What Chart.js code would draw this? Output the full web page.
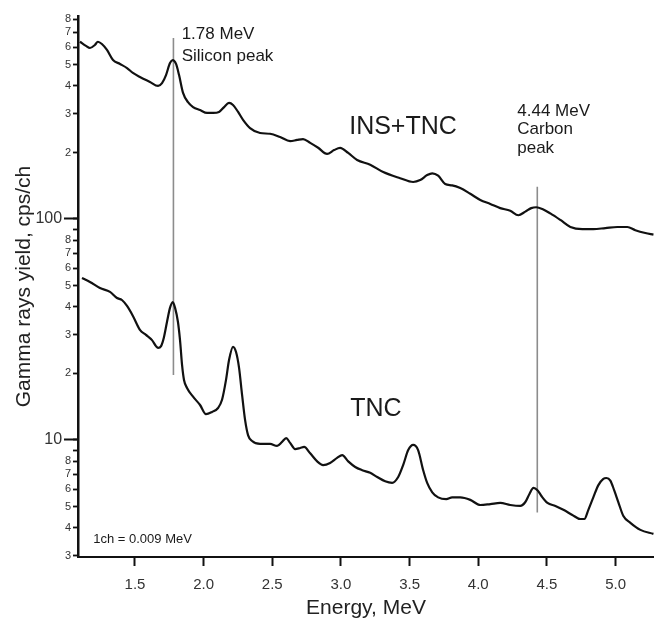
<!DOCTYPE html>
<html>
<head>
<meta charset="utf-8">
<script src="https://cdn.jsdelivr.net/npm/chart.js@4.4.1/dist/chart.umd.min.js"></script>
<style>
html,body{margin:0;padding:0;background:#fff;}
#wrap{width:654px;height:618px;}
</style>
</head>
<body>
<div id="wrap"><canvas id="c" width="654" height="618"></canvas></div>
<script>
// ---- Data ----
const energyInsTnc = [1.099,1.143,1.172,1.208,1.230,1.259,1.296,1.340,1.391,1.442,1.485,1.536,1.609,1.668,1.697,1.726,1.755,1.775,1.799,1.821,1.850,1.886,1.923,1.974,2.025,2.069,2.112,2.149,2.185,2.214,2.251,2.287,2.338,2.411,2.484,2.557,2.630,2.681,2.724,2.776,2.834,2.899,2.950,2.994,3.053,3.118,3.213,3.308,3.431,3.526,3.577,3.628,3.665,3.708,3.759,3.810,3.869,3.942,4.015,4.088,4.160,4.233,4.292,4.343,4.386,4.423,4.467,4.525,4.598,4.671,4.758,4.838,4.926,5.013,5.086,5.144,5.217,5.276];
const yieldInsTnc = [634,607,594,613,634,619,582,524,503,482,458,439,417,400,412,448,508,524,503,448,372,338,321,311,302,302,305,321,335,328,305,281,258,245,243,235,225,228,230,221,210,197,205,210,199,185,176,163,153,147,150,158,161,157,144,142,138,130,122,117,112,109,104,108,112,113,111,106,99,92,90,90,91,92,92,89,86.4,85];

const energyTnc = [1.114,1.172,1.245,1.318,1.369,1.405,1.442,1.485,1.536,1.580,1.624,1.653,1.668,1.690,1.711,1.733,1.755,1.775,1.792,1.813,1.828,1.843,1.857,1.879,1.923,1.974,2.017,2.061,2.105,2.134,2.163,2.185,2.214,2.236,2.258,2.280,2.302,2.324,2.353,2.411,2.484,2.535,2.571,2.601,2.630,2.666,2.703,2.732,2.776,2.827,2.870,2.921,2.972,3.009,3.053,3.104,3.155,3.213,3.264,3.322,3.373,3.417,3.453,3.490,3.526,3.562,3.599,3.628,3.665,3.708,3.767,3.810,3.869,3.942,4.015,4.088,4.160,4.233,4.306,4.343,4.373,4.402,4.431,4.460,4.504,4.562,4.620,4.685,4.743,4.773,4.802,4.838,4.875,4.911,4.933,4.962,4.991,5.020,5.057,5.108,5.181,5.276];
const yieldTnc = [54.1,51.9,48.7,46.8,43.9,43.0,40.4,36.4,31.5,29.9,28.3,26.6,26.1,26.6,29.2,34.2,39.6,42.1,39.6,34.2,28.3,21.8,18.7,17.2,15.7,14.4,13.1,13.4,13.96,15.2,18.7,23.0,26.4,25.0,21.2,16.0,12.3,10.5,9.9,9.6,9.6,9.4,9.8,10.2,9.7,9.1,9.2,9.3,8.7,8.0,7.7,7.87,8.3,8.55,8.0,7.55,7.3,7.1,6.8,6.5,6.4,6.8,7.7,9.0,9.5,9.0,7.3,6.4,5.8,5.5,5.4,5.5,5.5,5.36,5.08,5.13,5.19,5.08,5.03,5.24,5.7,6.07,5.93,5.58,5.19,5.03,4.83,4.58,4.39,4.39,4.83,5.5,6.25,6.67,6.73,6.55,5.9,5.24,4.53,4.22,3.92,3.76];

const xTickValues = [1.5,2.0,2.5,3.0,3.5,4.0,4.5,5.0];
const yMajorTicks = [10,100];
const yMinorTicks = [3,4,5,6,7,8,9,20,30,40,50,60,70,80,90,200,300,400,500,600,700,800];

const markerEnergy = [1.78, 4.43];
const markerTop = [660, 140];
const markerBottom = [19.7, 4.7];

const noteLines = [
  ['1.78 MeV','Silicon peak'],
  ['4.44 MeV','Carbon','peak'],
  ['INS+TNC'],
  ['TNC'],
  ['1ch = 0.009 MeV']
];
</script>
<script>
const FONT = "'Liberation Sans', Arial, Helvetica, sans-serif";
Chart.defaults.font.family = FONT;
Chart.defaults.color = '#222';

const X_MIN = 1.085, X_MAX = 5.28, Y_MIN = 2.955, Y_MAX = 829;
const allYTicks = yMinorTicks.concat(yMajorTicks).sort((a, b) => a - b);
const isMajor = v => yMajorTicks.indexOf(v) >= 0;

// anchor of each note in data coordinates (left edge, centre of first line), style
const noteStyle = [
  {x:1.840, y:687, size:17, gap:22},
  {x:4.284, y:308, size:17, gap:18.5},
  {x:3.060, y:260, size:25, gap:0},
  {x:3.067, y:13.8, size:25, gap:0},
  {x:1.196, y:3.54, size:13, gap:0}
];

const notesPlugin = {
  id: 'notes',
  afterDatasetsDraw(chart) {
    const ctx = chart.ctx, xs = chart.scales.x, ys = chart.scales.y;
    ctx.save();
    ctx.fillStyle = '#1a1a1a';
    ctx.textAlign = 'left';
    ctx.textBaseline = 'middle';
    noteLines.forEach((lines, i) => {
      const st = noteStyle[i];
      const px = xs.getPixelForValue(st.x);
      const py = ys.getPixelForValue(st.y);
      ctx.font = st.size + 'px ' + FONT;
      lines.forEach((t, k) => ctx.fillText(t, px, py + k * st.gap));
    });
    ctx.restore();
  }
};

const toPts = (xs, ys) => xs.map((x, i) => ({x: x, y: ys[i]}));

const markerSets = markerEnergy.map((e, i) => ({
  label: 'marker' + i,
  data: [{x: e, y: markerTop[i]}, {x: e, y: markerBottom[i]}],
  borderColor: '#8c8c8c',
  borderWidth: 1.6,
  pointRadius: 0,
  tension: 0
}));

new Chart(document.getElementById('c'), {
  type: 'line',
  data: {
    datasets: [
      {label: 'INS+TNC', data: toPts(energyInsTnc, yieldInsTnc), borderColor: '#111', borderWidth: 2.2, pointRadius: 0, cubicInterpolationMode: 'monotone'},
      {label: 'TNC', data: toPts(energyTnc, yieldTnc), borderColor: '#111', borderWidth: 2.2, pointRadius: 0, cubicInterpolationMode: 'monotone'},
      ...markerSets
    ]
  },
  options: {
    responsive: false,
    animation: false,
    layout: {padding: {top: 16, right: 0, bottom: 0, left: 0}},
    plugins: {legend: {display: false}, tooltip: {enabled: false}},
    scales: {
      x: {
        type: 'linear', min: X_MIN, max: X_MAX,
        afterBuildTicks: s => { s.ticks = xTickValues.map(v => ({value: v})); },
        afterFit: s => { s.height = 61; },
        grid: {drawOnChartArea: false, tickLength: 9, tickWidth: 2, tickColor: '#111'},
        border: {display: true, color: '#111', width: 2},
        ticks: {font: {size: 15}, color: '#333', padding: 10, autoSkip: false, maxRotation: 0,
                callback: v => Number(v).toFixed(1)},
        title: {display: true, text: 'Energy, MeV', color: '#222', font: {size: 21, lineHeight: 1}, padding: {top: 0, bottom: -1}}
      },
      y: {
        type: 'logarithmic', position: 'left', weight: 1, min: Y_MIN, max: Y_MAX,
        afterBuildTicks: s => { s.ticks = allYTicks.map(v => ({value: v})); },
        afterFit: s => { s.width = 78; },
        grid: {drawOnChartArea: false, tickLength: 5, tickWidth: 1.8, tickColor: '#111'},
        border: {display: true, color: '#111', width: 2.5},
        ticks: {
          color: '#333', padding: 2, autoSkip: false,
          font: c => ({size: (c.tick && isMajor(c.tick.value)) ? 16 : 11}),
          callback: v => {
            if (isMajor(v)) return String(v) + '  ';
            const m = Math.round(v / Math.pow(10, Math.floor(Math.log10(v) + 1e-9)));
            return m === 9 ? '' : String(m);
          }
        },
        title: {display: true, text: 'Gamma rays yield, cps/ch', color: '#222', font: {size: 21, lineHeight: 1}, padding: {top: 14, bottom: 0}}
      },
      y2: {
        type: 'logarithmic', position: 'left', weight: 0, min: Y_MIN, max: Y_MAX,
        afterBuildTicks: s => { s.ticks = yMajorTicks.map(v => ({value: v})); },
        afterFit: s => { s.width = 0; },
        grid: {drawOnChartArea: false, tickLength: 14, tickWidth: 2, tickColor: '#111'},
        border: {display: false},
        ticks: {display: false}
      }
    }
  },
  plugins: [notesPlugin]
});
</script>
</body>
</html>
